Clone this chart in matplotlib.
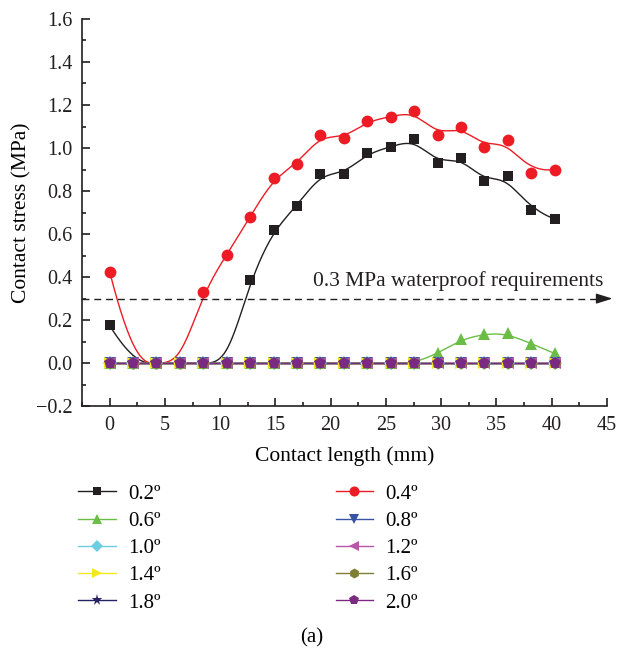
import matplotlib
matplotlib.use("Agg")
import matplotlib.pyplot as plt
from matplotlib.ticker import MultipleLocator
import numpy as np

# Contact length positions (mm)
length = [0, 2.12, 4.24, 6.36, 8.48, 10.6, 12.72, 14.84, 16.96, 19.08,
          21.2, 23.32, 25.44, 27.56, 29.68, 31.8, 33.92, 36.04, 38.16, 40.28]

# Contact stress (MPa) per inclination angle
s02 = [0.175, 0, 0, 0, 0, 0, 0.385, 0.62, 0.73, 0.88,
       0.88, 0.975, 1.005, 1.04, 0.93, 0.955, 0.845, 0.87, 0.71, 0.67]
s04 = [0.425, 0, 0, 0, 0.33, 0.505, 0.68, 0.86, 0.925, 1.06,
       1.045, 1.125, 1.145, 1.17, 1.06, 1.10, 1.005, 1.035, 0.885, 0.90]
s06 = [0, 0, 0, 0, 0, 0, 0, 0, 0, 0,
       0, 0, 0, 0, 0.045, 0.11, 0.135, 0.14, 0.09, 0.045]
zeros = [0] * 20

labels = ['0.2º', '0.4º', '0.6º', '0.8º', '1.0º', '1.2º', '1.4º', '1.6º', '1.8º', '2.0º']
series = [s02, s04, s06, zeros, zeros, zeros, zeros, zeros, zeros, zeros]
colors = ['#231f20', '#ed1c24', '#6cbd45', '#3953a4', '#6dcde0',
          '#b955a6', '#f2ea1d', '#7f7f33', '#262262', '#7b2a82']
markers = ['s', 'o', '^', 'v', 'D', '<', '>', 'h', '*', 'p']
msizes = [7.5, 8.5, 8.5, 8.5, 7, 8.5, 8.5, 8.5, 9.5, 8.5]

threshold = 0.3


def bspline(x, y, n=600, k=3):
    """Clamped cubic B-spline using the data points as control points."""
    x = np.asarray(x, float)
    y = np.asarray(y, float)
    m = len(x)
    t = np.concatenate([np.zeros(k), np.linspace(0, 1, m - k + 1), np.ones(k)])
    u = np.linspace(0, 1, n)
    u[-1] -= 1e-9
    B = ((t[:-1] <= u[:, None]) & (u[:, None] < t[1:])).astype(float)
    for d in range(1, k + 1):
        Bn = np.zeros((n, len(t) - d - 1))
        for i in range(len(t) - d - 1):
            if t[i + d] > t[i]:
                Bn[:, i] += (u - t[i]) / (t[i + d] - t[i]) * B[:, i]
            if t[i + d + 1] > t[i + 1]:
                Bn[:, i] += (t[i + d + 1] - u) / (t[i + d + 1] - t[i + 1]) * B[:, i + 1]
        B = Bn
    return B @ x, B @ y


plt.rcParams['font.family'] = ['Liberation Serif', 'DejaVu Serif']
plt.rcParams['font.size'] = 14

fig = plt.figure(figsize=(6.19, 6.53), dpi=100)
ax = fig.add_axes([0.1325, 0.378, 0.848, 0.593])

handles = []
for y, c, mk, ms, lab in zip(series, colors, markers, msizes, labels):
    sx, sy = bspline(length, y)
    ax.plot(sx, sy, color=c, lw=1.0, zorder=2)
    ax.plot(length, y, linestyle='none', marker=mk, ms=ms, color=c,
            markeredgewidth=0, zorder=3)
    h, = ax.plot([], [], color=c, lw=1.0, marker=mk, ms=ms * 0.85,
                 markeredgewidth=0, label=lab)
    handles.append(h)

# 0.3 MPa requirement line with arrow head
ax.plot([-2.5, 44.9], [threshold, threshold], color='#231f20', lw=1.0,
        dashes=(5, 3.5), clip_on=False, zorder=4)
ax.annotate('', xy=(45.5, threshold), xytext=(44.3, threshold),
            arrowprops=dict(arrowstyle='-|>,head_length=0.7,head_width=0.22',
                            color='#231f20', lw=1.0, shrinkA=0, shrinkB=0),
            annotation_clip=False)
ax.text(18.4, 0.335, '0.3 MPa waterproof requirements', fontsize=15.5,
        ha='left', va='bottom', color='#231f20')

ax.set_xlim(-2.5, 45)
ax.set_ylim(-0.2, 1.6)
ax.xaxis.set_major_locator(MultipleLocator(5))
ax.xaxis.set_minor_locator(MultipleLocator(2.5))
ax.yaxis.set_minor_locator(MultipleLocator(0.1))
ax.set_yticks(np.arange(-0.2, 1.61, 0.2))
ax.set_yticklabels(['−0.2', '0.0', '0.2', '0.4', '0.6', '0.8', '1.0', '1.2', '1.4', '1.6'])
ax.tick_params(which='both', direction='in', width=1.2, colors='#231f20',
               labelsize=14.5)
ax.tick_params(which='major', length=5.5)
ax.tick_params(which='minor', length=3)
ax.tick_params(axis='x', pad=7)
ax.tick_params(axis='y', pad=7)
for side in ['top', 'right']:
    ax.spines[side].set_visible(False)
for side in ['left', 'bottom']:
    ax.spines[side].set_linewidth(1.2)
    ax.spines[side].set_color('#231f20')

ax.set_xlabel('Contact length (mm)', fontsize=15.5, labelpad=8)
ax.set_ylabel('Contact stress (MPa)', fontsize=15.5, labelpad=3)

# legend: two columns, left column 0.2,0.6,...; right column 0.4,0.8,...
order = [0, 2, 4, 6, 8, 1, 3, 5, 7, 9]
fig.legend([handles[i] for i in order], [labels[i] for i in order],
           loc='upper left', bbox_to_anchor=(78 / 619, 1 - 484 / 653),
           ncol=2, frameon=False, borderpad=0, borderaxespad=0,
           handlelength=1.8, handletextpad=0.6, columnspacing=8.4,
           labelspacing=0.37, fontsize=15)

fig.text(312 / 619, 1 - 638 / 653, '(a)', ha='center', va='center', fontsize=15)

fig.savefig('out.png', dpi=100)
